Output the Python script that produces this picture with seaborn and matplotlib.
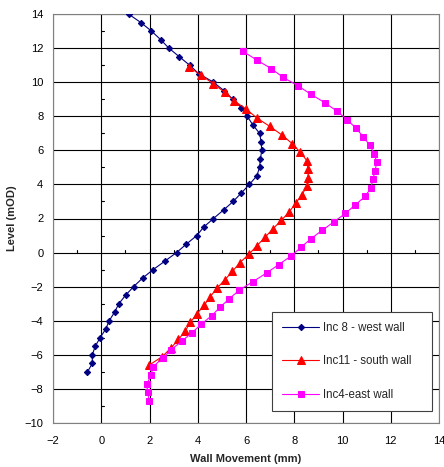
import matplotlib
matplotlib.use("Agg")
import matplotlib.pyplot as plt
import seaborn as sns
import pandas as pd

# --- data ---
west_x = [1.13, 1.64, 2.08, 2.46, 2.80, 3.23, 3.66, 4.04, 4.65, 5.09, 5.45, 5.81, 6.05, 6.28,
          6.56, 6.63, 6.65, 6.60, 6.56, 6.45, 6.14, 5.81, 5.47, 5.07, 4.65, 4.25, 3.96, 3.53,
          3.12, 2.64, 2.15, 1.71, 1.34, 1.01, 0.73, 0.55, 0.33, 0.18, -0.05, -0.25, -0.37,
          -0.37, -0.57]
west_y = [14.0, 13.5, 13.0, 12.5, 12.0, 11.5, 11.0, 10.5, 10.0, 9.5, 9.0, 8.5, 8.0, 7.5,
          7.0, 6.5, 6.0, 5.5, 5.0, 4.5, 4.0, 3.5, 3.0, 2.5, 2.0, 1.5, 1.0, 0.5,
          0.0, -0.5, -1.0, -1.5, -2.0, -2.5, -3.0, -3.5, -4.0, -4.5, -5.0, -5.5, -6.0,
          -6.5, -7.0]

south_x = [3.62, 4.15, 4.65, 5.12, 5.52, 6.02, 6.45, 6.99, 7.49, 7.91, 8.24, 8.52, 8.56, 8.58,
           8.53, 8.32, 8.06, 7.80, 7.47, 7.12, 6.79, 6.45, 6.12, 5.74, 5.44, 5.12, 4.79, 4.51,
           4.26, 3.96, 3.69, 3.48, 3.20, 2.89, 2.53, 1.99]
south_y = [10.9, 10.4, 9.9, 9.4, 8.9, 8.4, 7.9, 7.4, 6.9, 6.4, 5.9, 5.4, 4.9, 4.4,
           3.9, 3.4, 2.9, 2.4, 1.9, 1.4, 0.9, 0.4, -0.1, -0.6, -1.1, -1.6, -2.1, -2.6,
           -3.1, -3.6, -4.1, -4.6, -5.1, -5.6, -6.1, -6.6]

east_x = [5.88, 6.45, 7.04, 7.52, 8.14, 8.68, 9.26, 9.77, 10.19, 10.56, 10.86, 11.13, 11.32,
          11.42, 11.35, 11.26, 11.18, 10.94, 10.53, 10.12, 9.64, 9.15, 8.68, 8.27, 7.87, 7.36,
          6.85, 6.29, 5.73, 5.31, 4.93, 4.58, 4.15, 3.76, 3.34, 2.89, 2.55, 2.14, 2.07, 1.89,
          1.92, 1.99]
east_y = [11.8, 11.3, 10.8, 10.3, 9.8, 9.3, 8.8, 8.3, 7.8, 7.3, 6.8, 6.3, 5.8,
          5.3, 4.8, 4.3, 3.8, 3.3, 2.8, 2.3, 1.8, 1.3, 0.8, 0.3, -0.2, -0.7,
          -1.2, -1.7, -2.2, -2.7, -3.2, -3.7, -4.2, -4.7, -5.2, -5.7, -6.2, -6.7, -7.2, -7.7,
          -8.2, -8.7]

labels = ["Inc 8 - west wall", "Inc11 - south wall", "Inc4-east wall"]
x_ticks = [-2, 0, 2, 4, 6, 8, 10, 12, 14]
y_ticks = [-10, -8, -6, -4, -2, 0, 2, 4, 6, 8, 10, 12, 14]

sns.set_style("white")
plt.rcParams['font.family'] = ['Liberation Sans', 'DejaVu Sans']

fig = plt.figure(figsize=(4.44, 4.67), dpi=100)
ax = fig.add_axes([53 / 444, 1 - 423 / 467, 386 / 444, 409 / 467])

series = [
    (west_x, west_y, labels[0], "#000080", "D", 3.2),
    (south_x, south_y, labels[1], "#FF0000", "^", 5.2),
    (east_x, east_y, labels[2], "#FF00FF", "s", 4.0),
]
for xs, ys, lab, col, mk, ms in series:
    df = pd.DataFrame({"x": xs, "y": ys})
    sns.lineplot(data=df, x="x", y="y", sort=False, estimator=None, ax=ax,
                 color=col, marker=mk, markersize=ms, markeredgecolor=col,
                 linewidth=0.8, label=lab, zorder=3)

ax.set_xlim(-2, 14)
ax.set_ylim(-10, 14)
ax.set_xticks(x_ticks)
ax.set_yticks(y_ticks)
ax.grid(True, color="black", linewidth=0.8, zorder=0)
ax.set_axisbelow(True)
for s in ax.spines.values():
    s.set_color("#808080")
    s.set_linewidth(0.8)
ax.tick_params(axis="both", labelsize=8, length=0, colors="#000000")
ax.tick_params(axis="x", pad=9)
ax.tick_params(axis="y", pad=7)

# minor tick marks on the zero axes
for v in [-1, 1, 3, 5, 7, 9, 11, 13]:
    ax.plot([v, v], [0, 0.15], color="black", lw=0.8, zorder=1)
for v in [-9, -7, -5, -3, -1, 1, 3, 5, 7, 9, 11, 13]:
    ax.plot([0, 0.1], [v, v], color="black", lw=0.8, zorder=1)

ax.set_xlabel("Wall Movement (mm)", fontsize=8, fontweight="bold", labelpad=6)
ax.set_ylabel("Level (mOD)", fontsize=8, fontweight="bold", labelpad=5)

leg = ax.legend(loc="lower left", bbox_to_anchor=(0.567, 0.029, 0.415, 0.242),
                mode="expand", fontsize=8.3, frameon=True, fancybox=False,
                edgecolor="#404040", framealpha=1, labelspacing=1.85,
                handlelength=3.2, handletextpad=0.3, borderpad=0.9,
                borderaxespad=0)
leg.get_frame().set_linewidth(0.8)

fig.savefig("out.png", dpi=100)
